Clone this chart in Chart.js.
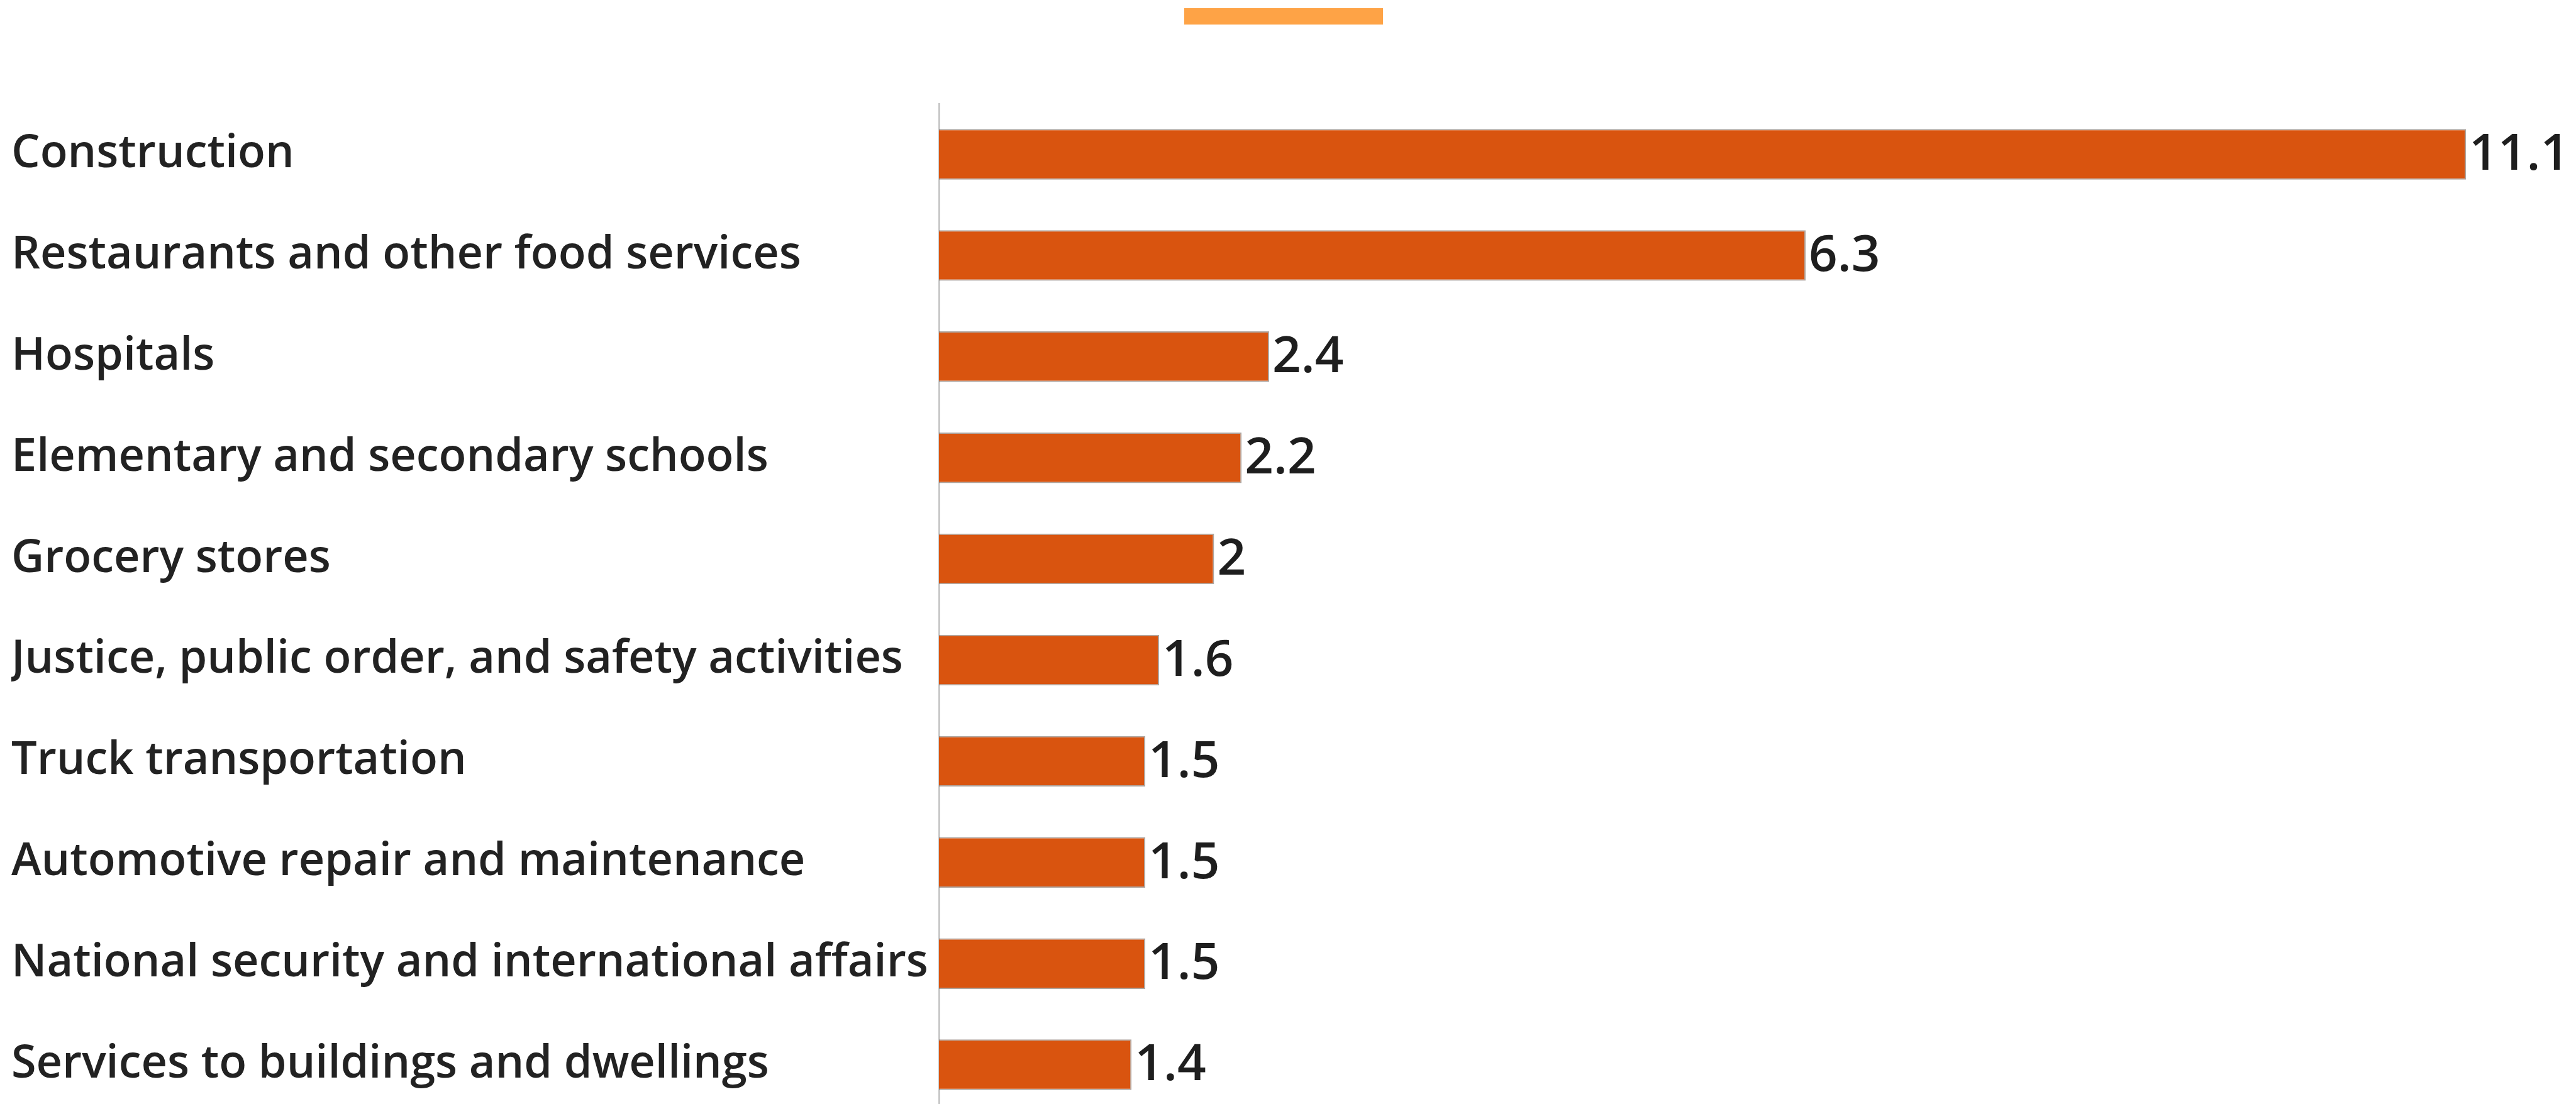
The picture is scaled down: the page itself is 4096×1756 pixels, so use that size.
<!DOCTYPE html>
<html>
<head>
<meta charset="utf-8">
<script src="https://cdn.jsdelivr.net/npm/chart.js@4.4.1/dist/chart.umd.min.js"></script>
<style>
  html, body { margin: 0; padding: 0; background: #fff; overflow: hidden; }
  #jobs-chart { display: block; }
</style>
</head>
<body>
<canvas id="jobs-chart" width="4096" height="1780"></canvas>
<script>
// Industries, ordered from most to fewest jobs
const industries = [
    'Construction',
    'Restaurants and other food services',
    'Hospitals',
    'Elementary and secondary schools',
    'Grocery stores',
    'Justice, public order, and safety activities',
    'Truck transportation',
    'Automotive repair and maintenance',
    'National security and international affairs',
    'Services to buildings and dwellings'
];

// Values printed at the end of each bar
const jobValues = [11.1, 6.3, 2.4, 2.2, 2, 1.6, 1.5, 1.5, 1.5, 1.4];

const barColor = '#D9540F';
const legendColor = '#FEA346';

// Writes the value just past the end of every bar
const valueLabels = {
    id: 'valueLabels',
    afterDatasetsDraw(chart) {
        const ctx = chart.ctx;
        const meta = chart.getDatasetMeta(0);
        ctx.save();
        ctx.font = '600 80px "Open Sans"';
        ctx.fillStyle = '#1e1e1e';
        ctx.textAlign = 'left';
        ctx.textBaseline = 'middle';
        meta.data.forEach((bar, i) => {
            ctx.fillText(String(jobValues[i]), bar.x + 5, bar.y + 2);
        });
        ctx.restore();
    }
};

const ctx = document.getElementById('jobs-chart');

new Chart(ctx, {
    type: 'bar',
    data: {
        labels: industries,
        datasets: [{
            label: '',
            data: jobValues,
            backgroundColor: barColor,
            borderColor: 'rgba(120, 105, 95, 0.6)',
            borderWidth: 2,
            borderSkipped: 'start',
            barPercentage: 0.5,
            categoryPercentage: 1
        }]
    },
    options: {
        indexAxis: 'y',
        responsive: false,
        animation: false,
        layout: {
            padding: { left: 18, right: 0, top: 0, bottom: 6 }
        },
        scales: {
            x: {
                position: 'top',
                min: 0,
                max: 11.9,
                grid: { display: false },
                border: { display: false },
                ticks: { display: false },
                afterFit(scale) {
                    scale.height = 97;
                }
            },
            y: {
                grid: { display: false },
                border: { display: true, color: '#c8c8c8', width: 3 },
                ticks: {
                    crossAlign: 'far',
                    color: '#222222',
                    font: { family: '"Open Sans"', size: 72, weight: '600' }
                },
                afterFit(scale) {
                    scale.width = 1475;
                    // keep the label half-heights from shrinking the plot
                    scale.paddingTop = 0;
                    scale.paddingBottom = 0;
                }
            }
        },
        plugins: {
            legend: {
                position: 'top',
                onClick: null,
                labels: {
                    boxWidth: 316,
                    boxHeight: 26,
                    padding: -6,
                    font: { size: 64 },
                    generateLabels() {
                        return [{
                            text: '',
                            fillStyle: legendColor,
                            strokeStyle: legendColor,
                            lineWidth: 0,
                            hidden: false,
                            datasetIndex: 0
                        }];
                    }
                }
            },
            tooltip: { enabled: false }
        }
    },
    plugins: [valueLabels]
});
</script>
</body>
</html>
